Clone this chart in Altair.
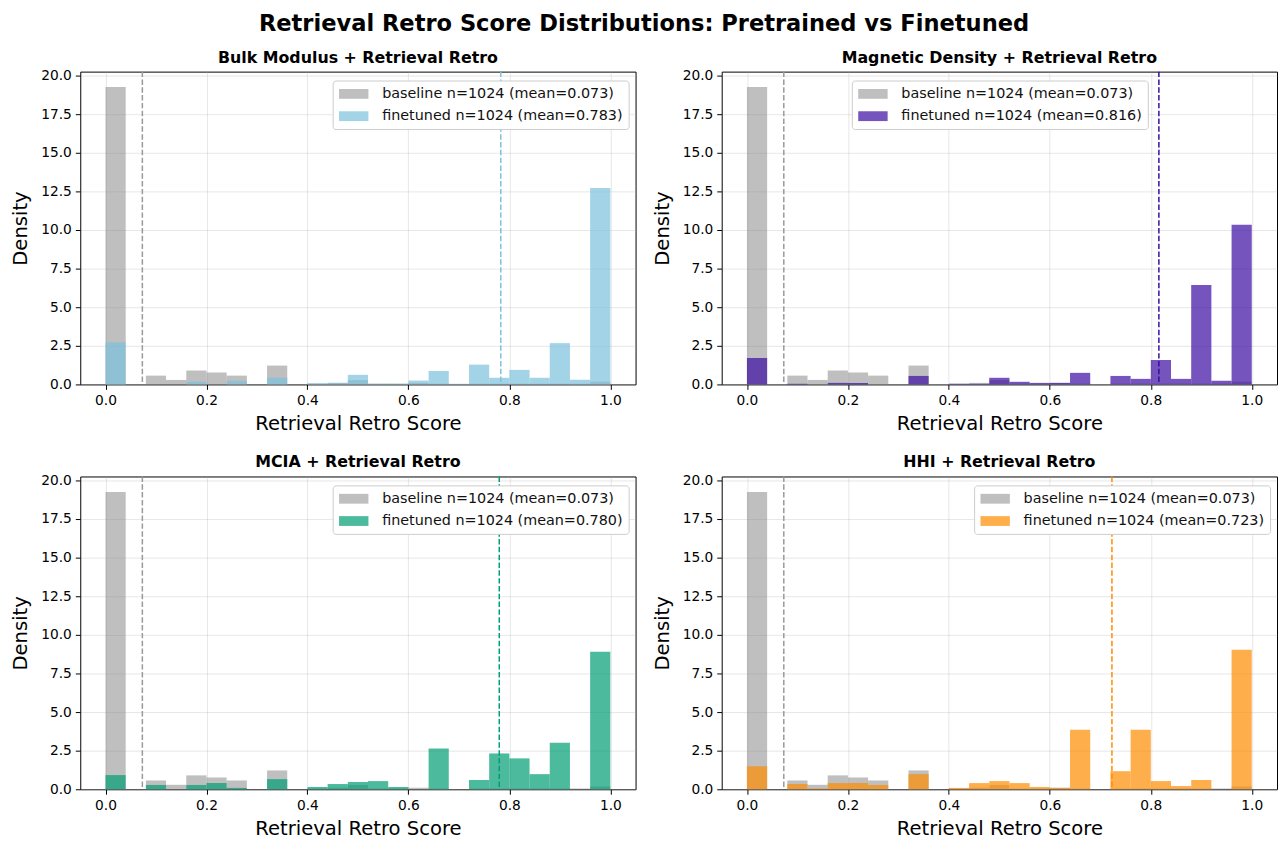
import altair as alt
import pandas as pd

# ---- data ----
bin_edges = [0.00, 0.04, 0.08, 0.12, 0.16, 0.20, 0.24, 0.28, 0.32, 0.36, 0.40,
             0.44, 0.48, 0.52, 0.56, 0.60, 0.64, 0.68, 0.72, 0.76, 0.80,
             0.84, 0.88, 0.92, 0.96, 1.00]

baseline_density = [19.25, 0.0, 0.57, 0.29, 0.90, 0.77, 0.57, 0.0, 1.22, 0.0,
                    0.05, 0.10, 0.28, 0.05, 0.05, 0.10, 0.05, 0.0, 0.05, 0.05,
                    0.05, 0.05, 0.05, 0.05, 0.18]
baseline_mean = 0.073

panel_titles = ["Bulk Modulus + Retrieval Retro", "Magnetic Density + Retrieval Retro",
                "MCIA + Retrieval Retro", "HHI + Retrieval Retro"]
finetuned_means = [0.783, 0.816, 0.780, 0.723]

bulk_density = [2.73, 0.0, 0.0, 0.0, 0.17, 0.0, 0.23, 0.0, 0.43, 0.0,
                0.08, 0.10, 0.62, 0.04, 0.04, 0.25, 0.87, 0.04, 1.28, 0.43,
                0.94, 0.43, 2.67, 0.30, 12.71]
magnetic_density = [1.71, 0.0, 0.04, 0.0, 0.10, 0.10, 0.0, 0.0, 0.55, 0.0,
                    0.04, 0.04, 0.43, 0.17, 0.10, 0.10, 0.75, 0.0, 0.55, 0.36,
                    1.58, 0.36, 6.44, 0.23, 10.34]
mcia_density = [0.92, 0.0, 0.28, 0.0, 0.28, 0.40, 0.09, 0.0, 0.66, 0.0,
                0.15, 0.34, 0.47, 0.53, 0.15, 0.0, 2.64, 0.0, 0.60, 2.32,
                2.00, 0.98, 3.02, 0.0, 8.90]
hhi_density = [1.49, 0.0, 0.34, 0.05, 0.40, 0.40, 0.28, 0.0, 0.98, 0.0,
               0.09, 0.40, 0.53, 0.40, 0.15, 0.09, 3.86, 0.0, 1.17, 3.86,
               0.53, 0.21, 0.60, 0.0, 9.04]
finetuned_densities = [bulk_density, magnetic_density, mcia_density, hhi_density]

finetuned_colors = ["#7cc1dc", "#3a0ca3", "#009e73", "#ff8c00"]
baseline_color = "#808080"
n_samples = 1024
legend_places = ["right", "center", "right", "right"]

x_ticks = [0.0, 0.2, 0.4, 0.6, 0.8, 1.0]
y_ticks = [0.0, 2.5, 5.0, 7.5, 10.0, 12.5, 15.0, 17.5, 20.0]

FONT = "DejaVu Sans"
W, H = 561, 316
LEG_W = 298

rect_path = "M-1,-0.7H3.2V0.7H-1Z"


def panel(i):
    bl_label = f"baseline n={n_samples} (mean={baseline_mean:.3f})"
    ft_label = f"finetuned n={n_samples} (mean={finetuned_means[i]:.3f})"
    rows = []
    for k in range(len(baseline_density)):
        rows.append({"series": bl_label, "lo": bin_edges[k], "hi": bin_edges[k + 1],
                     "density": baseline_density[k], "ord": 0})
    for k in range(len(finetuned_densities[i])):
        rows.append({"series": ft_label, "lo": bin_edges[k], "hi": bin_edges[k + 1],
                     "density": finetuned_densities[i][k], "ord": 1})
    df = pd.DataFrame(rows)

    if legend_places[i] == "right":
        lx = W - 8 - LEG_W
    else:
        lx = (W - LEG_W) / 2

    xscale = alt.Scale(domain=[-0.05, 1.05], nice=False, zero=False)
    yscale = alt.Scale(domain=[0, 20.25], nice=False)
    legend = alt.Legend(title=None, orient="none", legendX=lx, legendY=9,
                        strokeColor="#cccccc", fillColor="white", padding=6,
                        cornerRadius=3, labelFontSize=14.5, labelFont=FONT,
                        labelLimit=500,
                        symbolType=rect_path, symbolSize=200, symbolStrokeWidth=0,
                        labelOffset=29, rowPadding=7.5, labelColor="#111")

    bars = alt.Chart(df).mark_bar(strokeWidth=0).encode(
        x=alt.X("lo:Q", scale=xscale,
                axis=alt.Axis(title="Retrieval Retro Score", values=x_ticks, format=".1f")),
        x2="hi:Q",
        y=alt.Y("density:Q", scale=yscale,
                axis=alt.Axis(title="Density", values=y_ticks, format=".1f")),
        y2=alt.datum(0),
        color=alt.Color("series:N",
                        scale=alt.Scale(domain=[bl_label, ft_label],
                                        range=[baseline_color, finetuned_colors[i]]),
                        legend=legend),
        opacity=alt.Opacity("series:N",
                            scale=alt.Scale(domain=[bl_label, ft_label], range=[0.5, 0.7]),
                            legend=legend),
        order=alt.Order("ord:Q"),
    )

    mean_df = pd.DataFrame({"m": [baseline_mean]})
    ft_df = pd.DataFrame({"m": [finetuned_means[i]]})
    bl_rule = alt.Chart(mean_df).mark_rule(color="#999999", strokeDash=[5.5, 2.4],
                                           strokeWidth=1.5).encode(x="m:Q")
    ft_rule = alt.Chart(ft_df).mark_rule(color=finetuned_colors[i], strokeDash=[5.5, 2.4],
                                         strokeWidth=1.5).encode(x="m:Q")

    return alt.layer(bars, bl_rule, ft_rule).properties(
        width=W, height=H,
        title=alt.TitleParams(panel_titles[i], fontSize=16, fontWeight="bold",
                              font=FONT, offset=3, color="#000"),
    )


top = alt.hconcat(panel(0), panel(1), spacing=15).resolve_scale(
    color="independent", opacity="independent")
bottom = alt.hconcat(panel(2), panel(3), spacing=15).resolve_scale(
    color="independent", opacity="independent")

chart = alt.vconcat(top, bottom, spacing=19).resolve_scale(
    color="independent", opacity="independent"
).properties(
    title=alt.TitleParams("Retrieval Retro Score Distributions: Pretrained vs Finetuned",
                          fontSize=22.8, fontWeight="bold", font=FONT, anchor="middle",
                          offset=14, color="#000"),
    padding={"left": 2, "top": 0, "right": 0, "bottom": 0},
).configure_view(
    stroke="#000", strokeWidth=1
).configure_axis(
    labelFont=FONT, titleFont=FONT, labelFontSize=13.9, titleFontSize=19.8,
    titleFontWeight="normal", labelColor="#000", titleColor="#000",
    domain=False, tickColor="#000", tickSize=5, tickWidth=1, labelPadding=4,
    gridColor="#b0b0b0", gridOpacity=0.3, gridWidth=1,
).configure_axisY(
    titlePadding=10
).configure_axisX(
    titlePadding=7
)

chart.save("out.html", embed_options={"renderer": "svg", "actions": False})
